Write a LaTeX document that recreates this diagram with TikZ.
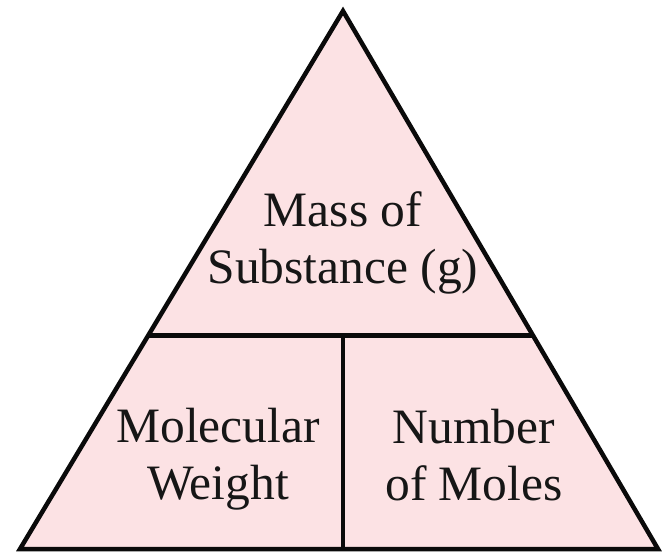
\documentclass[tikz,border=0pt]{standalone}
\usepackage{fontspec}
\setmainfont{Liberation Serif}
\usetikzlibrary{calc}
\usepackage{color}
\definecolor{panel}{RGB}{252, 226, 228}
\definecolor{inkline}{RGB}{10, 10, 10}

\begin{document}
\begin{tikzpicture}[x=1pt, y=-1pt, line width=4.5pt, every node/.style={align=center, font=\fontsize{49.5}{57}\selectfont, text=inkline!95}]
            \useasboundingbox (0,0) rectangle (663,551);
            \coordinate (apex) at (343,11);
            \coordinate (lc) at (20,549);
            \coordinate (rc) at (658,549);
            \coordinate (ml) at ($(lc)!0.3966!(apex)$);
            \coordinate (mr) at ($(rc)!0.3966!(apex)$);
            \coordinate (mt) at ($(ml)!(apex)!(mr)$);
            \coordinate (mb) at (mt |- lc);
            
            \draw[draw=inkline, fill=panel] (apex) -- (rc) -- (lc) -- cycle;
            \draw[draw=inkline] (ml) -- (mr);
            \draw[draw=inkline] (mt) -- (mb);
            
            \node (mass) at (343,243) {Mass of\\Substance (g)};
            \node (mw) at (218,459) {Molecular\\Weight};
            \node (moles) at (474,455) {Number\\of Moles};
        \end{tikzpicture}
\end{document}
